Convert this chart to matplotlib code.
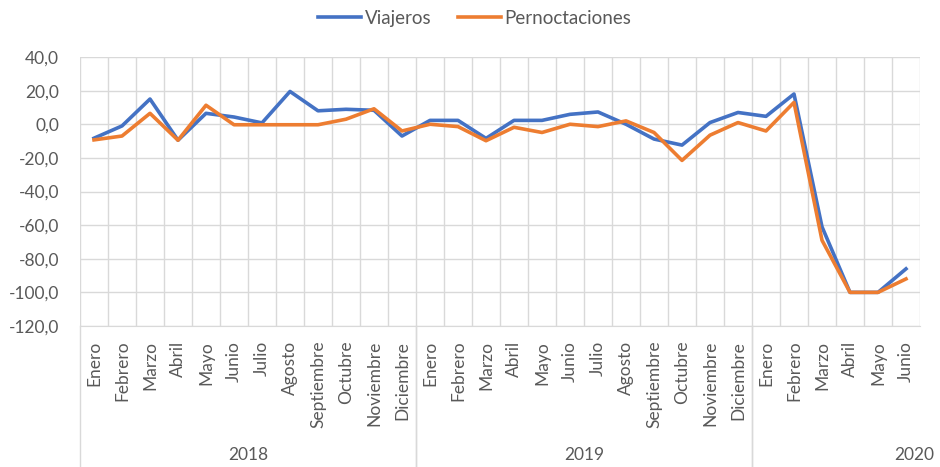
import matplotlib
matplotlib.use('Agg')
import matplotlib.pyplot as plt
from matplotlib.lines import Line2D
from matplotlib.ticker import FuncFormatter

plt.rcParams['font.family'] = ['Lato', 'DejaVu Sans']

months = ['Enero', 'Febrero', 'Marzo', 'Abril', 'Mayo', 'Junio', 'Julio', 'Agosto',
          'Septiembre', 'Octubre', 'Noviembre', 'Diciembre']
years = ['2018', '2019', '2020']
months_per_year = [12, 12, 6]

viajeros = [-8.3, -1.0, 15.0, -9.5, 6.5, 4.3, 0.8, 19.5, 8.0, 8.9, 8.3, -7.0,
            2.3, 2.3, -8.4, 2.3, 2.3, 5.9, 7.3, 0.0, -8.8, -12.4, 1.0, 7.0,
            4.7, 18.0, -61.0, -100.0, -100.0, -86.0]
pernoctaciones = [-9.3, -7.0, 6.5, -9.5, 11.3, -0.3, -0.3, -0.3, -0.3, 3.0, 9.2, -4.0,
                  0.0, -1.4, -9.8, -1.8, -4.9, 0.0, -1.4, 2.0, -4.9, -21.5, -6.5, 1.0,
                  -4.0, 13.0, -69.0, -100.0, -100.0, -92.0]

labels = []
for n in months_per_year:
    labels += months[:n]
x = list(range(len(labels)))

grid_c = '#d9d9d9'
text_c = '#595959'

fig = plt.figure(figsize=(9.4, 4.67), dpi=100)
ax = fig.add_axes([80 / 940, 1 - 326 / 467, 840 / 940, 269 / 467])

ax.plot(x, viajeros, color='#4472C4', lw=2.6, label='Viajeros', solid_joinstyle='round')
ax.plot(x, pernoctaciones, color='#ED7D31', lw=2.6, label='Pernoctaciones', solid_joinstyle='round')

ax.set_xlim(-0.5, len(x) - 0.5)
ax.set_ylim(-120, 40)
ax.set_yticks(range(-120, 41, 20))
ax.yaxis.set_major_formatter(FuncFormatter(lambda v, p: f'{v:.1f}'.replace('.', ',')))
ax.tick_params(axis='y', length=0, labelsize=12.5, labelcolor=text_c, pad=15)
ax.grid(axis='y', color=grid_c, lw=1)

# vertical grid between categories
for b in range(len(x) + 1):
    ax.axvline(b - 0.5, color=grid_c, lw=1, zorder=0.5)

for s in ['top', 'right', 'left']:
    ax.spines[s].set_visible(False)
ax.spines['bottom'].set_color(grid_c)
ax.set_axisbelow(True)

ax.set_xticks(x)
ax.set_xticklabels([])
ax.tick_params(axis='x', length=0)
trans = ax.get_xaxis_transform()
for xi, lab in zip(x, labels):
    ax.text(xi, -0.055, lab, rotation=90, ha='center', va='top', transform=trans,
            fontsize=12.5, color=text_c)

# year groups
start = 0
for yr, n in zip(years, months_per_year):
    for edge in [start - 0.5, start + n - 0.5]:
        if edge < len(x) - 1:
            ax.add_line(Line2D([edge, edge], [0, -0.53], transform=trans, color=grid_c,
                               lw=1, clip_on=False))
    xc = start + (n - 1) / 2
    if yr == '2020':
        xc = 29.3
    ax.text(xc, -0.48, yr, ha='center', va='center', transform=trans,
            fontsize=12.5, color=text_c)
    start += n

fig.legend(loc='upper center', bbox_to_anchor=(0.505, 1.015), ncol=2, frameon=False,
           fontsize=13.5, labelcolor=text_c, handlelength=2.3, handletextpad=0.2,
           columnspacing=1.4)

fig.savefig('out.png', dpi=100)
